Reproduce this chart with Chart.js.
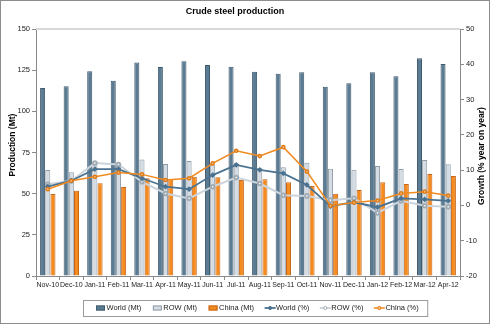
<!DOCTYPE html>
<html>
<head>
<meta charset="utf-8">
<script src="https://cdn.jsdelivr.net/npm/chart.js@4.4.0/dist/chart.umd.min.js"></script>
<style>
html, body { margin: 0; padding: 0; background: #fff; }
</style>
</head>
<body>
<canvas id="mycanvas" width="490" height="324"></canvas>
<script>
// monthly crude steel output, Mt, and year-on-year growth, %
var months = ['Nov-10', 'Dec-10', 'Jan-11', 'Feb-11', 'Mar-11', 'Apr-11', 'May-11', 'Jun-11', 'Jul-11',
              'Aug-11', 'Sep-11', 'Oct-11', 'Nov-11', 'Dec-11', 'Jan-12', 'Feb-12', 'Mar-12', 'Apr-12'];
var worldMt = [114.1, 115.2, 124.3, 118.5, 129.7, 126.9, 130.4, 128.1, 127.1, 124.0, 122.8, 123.7, 114.9, 117.0, 123.7, 121.3, 132.2, 128.7];
var rowMt   = [64.4, 63.0, 69.0, 67.5, 70.8, 68.0, 69.8, 67.2, 68.5, 65.4, 66.0, 68.8, 65.1, 64.6, 66.8, 65.0, 70.4, 67.8];
var chinaMt = [49.8, 51.8, 56.3, 54.0, 59.3, 58.7, 60.3, 59.9, 58.3, 58.7, 56.9, 54.6, 50.0, 52.2, 56.9, 55.9, 61.9, 60.7];
var worldPct = [5.3, 7.0, 10.3, 10.3, 7.7, 5.3, 4.6, 8.6, 11.5, 10.1, 9.1, 5.8, -0.2, 0.9, -0.5, 2.0, 1.7, 1.3];
var rowPct   = [6.0, 7.0, 12.0, 11.6, 6.7, 3.4, 2.0, 5.3, 7.9, 6.2, 2.9, 2.7, 1.5, 2.0, -2.1, 1.3, -0.1, -0.4];
var chinaPct = [4.6, 7.0, 8.1, 9.3, 8.8, 7.2, 7.7, 11.9, 15.5, 14.0, 16.5, 9.6, -0.1, 0.8, 1.4, 3.4, 3.9, 2.8];
var mtTicks = { min: 0, max: 150, step: 25 };
var pctTicks = { min: -20, max: 50, step: 10 };

var FONT = "'Liberation Sans', Arial, sans-serif";
var axisColor = '#8a8a8a';

// title, axis titles, legend box and outer frame
var decorations = {
    id: 'decorations',
    afterDraw: function(chart) {
        var ctx = chart.ctx;
        var area = chart.chartArea;
        ctx.save();
        ctx.strokeStyle = '#8c8c8c';
        ctx.lineWidth = 1;
        ctx.strokeRect(0.5, 0.5, chart.width - 1, chart.height - 1);

        // top edge of plot area
        ctx.strokeStyle = '#d9d9d9';
        ctx.lineWidth = 2;
        ctx.beginPath();
        ctx.moveTo(area.left, area.top);
        ctx.lineTo(area.right, area.top);
        ctx.stroke();

        ctx.fillStyle = '#000';
        ctx.textAlign = 'center';
        ctx.textBaseline = 'middle';
        ctx.font = 'bold 9px ' + FONT;
        ctx.fillText('Crude steel production', 235, 12);

        ctx.font = 'bold 8.5px ' + FONT;
        ctx.save();
        ctx.translate(13, 145);
        ctx.rotate(-Math.PI / 2);
        ctx.fillText('Production (Mt)', 0, 0);
        ctx.restore();
        ctx.save();
        ctx.translate(482, 156);
        ctx.rotate(-Math.PI / 2);
        ctx.fillText('Growth (% year on year)', 0, 0);
        ctx.restore();

        // legend
        ctx.font = '7.5px ' + FONT;
        ctx.textAlign = 'left';
        var y = 308;
        var x = 96;
        chart.data.datasets.forEach(function(ds) {
            if (ds.type === 'bar') {
                ctx.fillStyle = ds.backgroundColor;
                ctx.fillRect(x, y - 2.5, 9, 5);
                ctx.strokeStyle = ds.borderColor;
                ctx.lineWidth = 1;
                ctx.strokeRect(x + 0.5, y - 2, 8, 4);
            } else {
                ctx.strokeStyle = ds.borderColor;
                ctx.lineWidth = ds.borderWidth;
                ctx.beginPath();
                ctx.moveTo(x - 1, y);
                ctx.lineTo(x + 10, y);
                ctx.stroke();
                ctx.fillStyle = ds.pointBackgroundColor;
                ctx.strokeStyle = ds.pointBorderColor;
                ctx.lineWidth = 1;
                ctx.beginPath();
                ctx.arc(x + 4.5, y, 1.6, 0, Math.PI * 2);
                ctx.fill();
                ctx.stroke();
            }
            ctx.fillStyle = '#222';
            ctx.fillText(ds.label, x + 10.5, y);
            x += 10.5 + ctx.measureText(ds.label).width + 11.5;
        });
        ctx.strokeStyle = '#9a9a9a';
        ctx.lineWidth = 1;
        ctx.strokeRect(83.5, 300.5, x - 83 - 3, 16);
        ctx.restore();
    }
};

var ctx = document.getElementById('mycanvas').getContext('2d');
var chart = new Chart(ctx, {
    data: {
        labels: months,
        datasets: [
            { type: 'bar', label: 'World (Mt)', data: worldMt, yAxisID: 'y', order: 2,
              backgroundColor: '#5b7b92', borderColor: '#3e5a6e', borderWidth: 1 },
            { type: 'bar', label: 'ROW (Mt)', data: rowMt, yAxisID: 'y', order: 2,
              backgroundColor: '#d5dce3', borderColor: '#8e9ba6', borderWidth: 1 },
            { type: 'bar', label: 'China (Mt)', data: chinaMt, yAxisID: 'y', order: 2,
              backgroundColor: '#f58a1f', borderColor: '#c4671a', borderWidth: 1 },
            { type: 'line', label: 'World (%)', data: worldPct, yAxisID: 'y1', order: 1,
              borderColor: '#4b7391', borderWidth: 1.8, pointRadius: 1.6,
              pointBackgroundColor: '#4b7391', pointBorderColor: '#4b7391', pointStyle: 'rectRot' },
            { type: 'line', label: 'ROW (%)', data: rowPct, yAxisID: 'y1', order: 1,
              borderColor: '#cdd5dc', borderWidth: 2, pointRadius: 1.8,
              pointBackgroundColor: '#ffffff', pointBorderColor: '#a2acb5' },
            { type: 'line', label: 'China (%)', data: chinaPct, yAxisID: 'y1', order: 0,
              borderColor: '#f28a1e', borderWidth: 1.5, pointRadius: 1.6,
              pointBackgroundColor: '#f8c08a', pointBorderColor: '#e07a14' }
        ]
    },
    options: {
        responsive: false,
        animation: false,
        devicePixelRatio: 1,
        layout: { padding: { top: 29, left: 0, right: 0, bottom: 0 } },
        datasets: {
            bar: { categoryPercentage: 0.66, barPercentage: 0.97 },
            line: { tension: 0 }
        },
        plugins: {
            legend: { display: false },
            title: { display: false },
            tooltip: { enabled: false }
        },
        scales: {
            x: {
                grid: { display: true, drawOnChartArea: false, offset: true, tickLength: 4, color: axisColor },
                border: { color: axisColor },
                ticks: { autoSkip: false, maxRotation: 0, padding: 1, color: '#222', font: { family: FONT, size: 7 } },
                afterFit: function(scale) { scale.height = 48; }
            },
            y: {
                position: 'left',
                min: mtTicks.min, max: mtTicks.max,
                grid: { drawOnChartArea: false, tickLength: 4, color: axisColor },
                border: { color: axisColor },
                ticks: { stepSize: mtTicks.step, padding: 2, color: '#222', font: { family: FONT, size: 7.5 } },
                afterFit: function(scale) { scale.width = 36; }
            },
            y1: {
                position: 'right',
                min: pctTicks.min, max: pctTicks.max,
                grid: { drawOnChartArea: false, tickLength: 4, color: axisColor },
                border: { color: axisColor },
                ticks: { stepSize: pctTicks.step, padding: 2, color: '#222', font: { family: FONT, size: 7.5 } },
                afterFit: function(scale) { scale.width = 30; }
            }
        }
    },
    plugins: [decorations]
});
</script>
</body>
</html>
